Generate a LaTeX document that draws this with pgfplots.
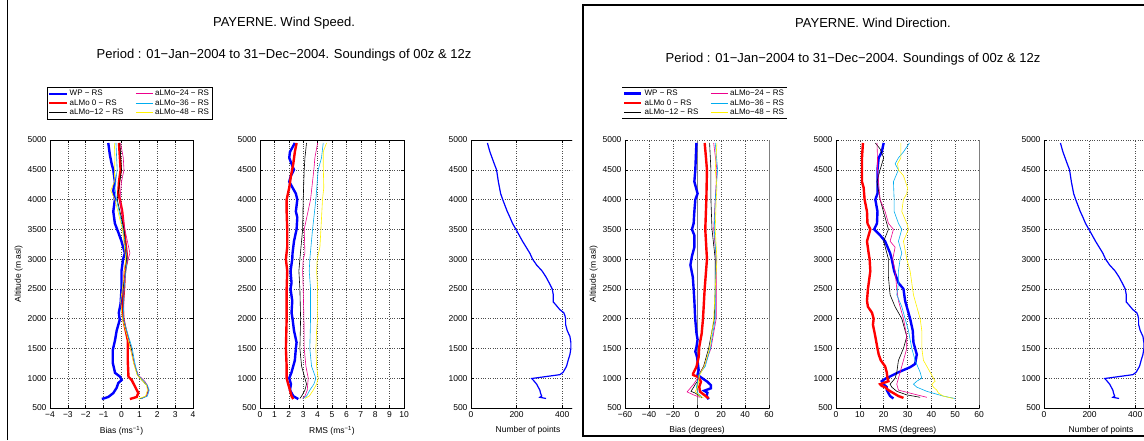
\documentclass[border=0pt]{standalone}
\usepackage{fontspec}
\setmainfont{Liberation Sans}
\usepackage{pgfplots}
\pgfplotsset{compat=1.18}

\pgfplotsset{
  prof/.style={scale only axis, anchor=south west, height=268pt,
    ymin=500, ymax=5000, ytick={500,1000,...,5000},
    grid=major, major grid style={dotted, black!70, line width=0.5pt},
    axis line style={line width=0.6pt}, tick style={black, line width=0.5pt},
    tick align=inside, major tick length=3pt,
    tick label style={font=\fontsize{8.5}{9}\selectfont},
    label style={font=\fontsize{8.5}{10}\selectfont},
    /pgf/number format/assume math mode=true,
    /pgf/number format/1000 sep={}, scaled ticks=false,
    xlabel style={yshift=-2pt}, ylabel style={yshift=-2pt}},
  wp/.style={blue, line width=2.4pt},
  m0/.style={red, line width=2.4pt},
  m12/.style={black, line width=0.6pt},
  m24/.style={magenta, line width=0.6pt},
  m36/.style={cyan, line width=0.6pt},
  m48/.style={yellow, line width=0.6pt},
  npts/.style={blue, line width=1.2pt},
  leg/.style={legend columns=3, transpose legend, legend cell align=left,
    legend style={at={(-0.021,1.198)}, anchor=north west,
      font=\fontsize{8}{8.5}\selectfont, inner sep=1pt, row sep=-1.8pt,
      /tikz/every even column/.append style={column sep=10pt}}},
  rightbox/.style={axis x line*=bottom, axis y line*=left, tick align=inside},
}

\begin{document}
\begin{tikzpicture}
\path[use as bounding box] (0pt,0pt) rectangle (1144pt,440pt);

% ---------------- wind speed ----------------
\node[font=\fontsize{13}{15}\selectfont] at (284pt,417pt) {PAYERNE. Wind Speed.};
\node[font=\fontsize{13}{15}\selectfont] at (284pt,385pt) {Period : 01−Jan−2004 to 31−Dec−2004. Soundings of 00z \& 12z};
\draw[line width=1.5pt] (7.5pt,0pt) -- (7.5pt,440pt);

\begin{axis}[prof, leg, at={(50pt,32pt)}, width=143pt,
  xmin=-4, xmax=4, xtick={-4,...,4},
  xticklabels={−4,−3,−2,−1,0,1,2,3,4},
  legend style={draw=black, line width=0.5pt},
  xlabel={Bias (ms\textsuperscript{−1})}, ylabel={Altitude (m asl)}]
\addplot[wp] coordinates {(-0.74,4950) (-0.65,4750) (-0.55,4600) (-0.46,4500) (-0.37,4300) (-0.46,4150) (-0.37,4000) (-0.46,3800) (-0.37,3600) (-0.18,3450) (0.0,3300) (0.19,3100) (0.09,3000) (0.0,2800) (0.0,2500) (-0.05,2250) (-0.15,2100) (-0.1,1980) (-0.27,1800) (-0.36,1640) (-0.49,1470) (-0.49,1260) (-0.36,1090) (-0.08,1025) (0.01,970) (-0.18,920) (-0.27,840) (-0.46,750) (-0.74,685) (-1.1,651)};
\addlegendentry{WP − RS}
\addplot[m0] coordinates {(-0.14,4950) (-0.09,4700) (-0.05,4500) (-0.14,4300) (-0.18,4100) (-0.09,4000) (0.04,3800) (0.14,3500) (0.25,3200) (0.32,3000) (0.19,2800) (0.14,2500) (0.06,2200) (0.1,2000) (0.2,1850) (0.35,1640) (0.35,1300) (0.39,1025) (0.57,970) (0.75,864) (0.94,752) (0.85,685) (0.47,651)};
\addlegendentry{aLMo 0 − RS}
\addplot[m12] coordinates {(-0.09,4950) (0.0,4500) (-0.24,4000) (0.14,3500) (0.28,3000) (0.09,2500) (0.09,2000) (0.3,1750) (0.55,1500) (0.7,1250) (0.9,1050) (1.2,950) (1.42,880) (1.5,800) (1.4,700) (1.05,655)};
\addlegendentry{aLMo−12 − RS}
\addplot[m24] coordinates {(-0.05,4950) (0.1,4700) (0.14,4500) (0.0,4300) (-0.09,4000) (0.19,3500) (0.47,3100) (0.19,2800) (0.14,2500) (0.12,2000) (0.32,1750) (0.5,1500) (0.7,1250) (0.95,1050) (1.3,950) (1.45,880) (1.5,780) (1.38,700) (1.1,655)};
\addlegendentry{aLMo−24 − RS}
\addplot[m36] coordinates {(-0.31,4950) (-0.24,4500) (-0.37,4200) (-0.28,4000) (0.09,3500) (0.32,3000) (0.14,2500) (0.1,2000) (0.35,1750) (0.6,1500) (0.75,1250) (0.92,1050) (1.25,950) (1.45,880) (1.55,800) (1.45,700) (1.1,655)};
\addlegendentry{aLMo−36 − RS}
\addplot[m48] coordinates {(-0.4,4950) (-0.37,4700) (-0.4,4300) (-0.6,4150) (-0.37,4000) (0.05,3500) (0.24,3000) (0.05,2500) (-0.05,2300) (0.05,2000) (0.28,1750) (0.5,1500) (0.68,1250) (0.88,1050) (1.2,950) (1.4,880) (1.45,800) (1.35,700) (0.95,655)};
\addlegendentry{aLMo−48 − RS}
\end{axis}

\begin{axis}[prof, at={(260pt,32pt)}, width=144pt,
  xmin=0, xmax=10, xtick={0,...,10},
  xlabel={RMS (ms\textsuperscript{−1})}]
\addplot[wp] coordinates {(2.42,4950) (2.08,4800) (2.03,4700) (2.19,4600) (2.36,4500) (2.15,4400) (2.03,4300) (2.26,4200) (2.49,4100) (2.59,4000) (2.49,3800) (2.59,3700) (2.54,3500) (2.36,3300) (2.26,3100) (2.24,3000) (2.12,2800) (2.19,2600) (2.12,2500) (2.24,2300) (2.19,2100) (2.26,2000) (2.36,1800) (2.54,1600) (2.49,1500) (2.42,1300) (2.19,1100) (2.03,1000) (2.15,900) (2.08,800) (2.31,700) (2.66,650)};
\addplot[m0] coordinates {(2.54,4950) (2.42,4800) (2.31,4600) (2.15,4400) (2.03,4200) (1.85,4000) (1.85,3800) (1.89,3500) (1.89,3200) (1.8,3000) (1.89,2800) (1.85,2500) (1.85,2000) (1.8,1500) (1.85,1200) (1.85,1000) (1.96,900) (2.08,800) (2.19,700) (2.31,650)};
\addplot[m12] coordinates {(3.23,4950) (3.12,4700) (3.07,4500) (3.0,4000) (2.96,3500) (2.77,3000) (2.7,2800) (2.77,2500) (2.82,2000) (2.77,1500) (2.89,1200) (3.12,1000) (3.23,900) (3.12,800) (2.89,700) (2.77,660)};
\addplot[m24] coordinates {(4.0,4950) (3.81,4700) (3.74,4500) (3.51,4000) (3.07,3500) (3.12,3100) (3.0,3000) (2.96,2800) (3.0,2500) (3.05,2000) (3.07,1500) (3.19,1200) (3.35,1000) (3.28,800) (3.12,700) (2.96,660)};
\addplot[m36] coordinates {(4.39,4950) (4.27,4700) (4.04,4500) (3.88,4000) (3.65,3500) (3.46,3000) (3.42,2800) (3.51,2500) (3.51,2000) (3.46,1500) (3.58,1200) (3.88,1000) (3.74,900) (3.46,800) (3.23,700) (3.0,660)};
\addplot[m48] coordinates {(4.62,4950) (4.39,4800) (4.39,4600) (4.43,4200) (4.34,4000) (4.23,3500) (4.16,3200) (3.97,3000) (3.93,2800) (4.0,2500) (4.0,2000) (3.93,1800) (3.88,1500) (3.93,1200) (4.04,1000) (3.93,900) (3.7,800) (3.42,700) (3.12,660)};
\end{axis}

\begin{scope}
\clip (0pt,0pt) rectangle (572pt,440pt);
\begin{axis}[prof, at={(471pt,32pt)}, width=114pt,
  xmin=0, xmax=500, xtick={0,200,400},
  xlabel={Number of points}]
\addplot[npts] coordinates {(72,4950) (83,4800) (102,4600) (112,4500) (120,4300) (130,4100) (139,4000) (159,3800) (171,3700) (182,3600) (197,3500) (226,3300) (258,3100) (270,3000) (288,2900) (312,2800) (329,2700) (343,2600) (356,2500) (361,2400) (361,2280) (368,2250) (390,2150) (407,2100) (412,2050) (415,2000) (415,1900) (422,1800) (434,1700) (438,1600) (438,1500) (434,1400) (426,1300) (419,1200) (404,1100) (390,1060) (266,995) (275,960) (288,900) (295,850) (302,800) (305,750) (310,700) (302,680) (329,660)};
\end{axis}
\end{scope}

% ---------------- wind direction ----------------
\draw[line width=1.5pt] (583pt,4pt) rectangle (1150pt,435pt);
\node[font=\fontsize{13}{15}\selectfont] at (873pt,417pt) {PAYERNE. Wind Direction.};
\node[font=\fontsize{13}{15}\selectfont] at (853pt,381pt) {Period : 01−Jan−2004 to 31−Dec−2004. Soundings of 00z \& 12z};

\begin{axis}[prof, rightbox, leg, at={(625pt,32pt)}, width=144pt,
  xmin=-60, xmax=60, xtick={-60,-40,...,60},
  xticklabels={−60,−40,−20,0,20,40,60},
  extra x ticks={0,60}, extra x tick labels={},
  extra x tick style={major grid style={solid, gray, line width=0.8pt}},
  legend style={draw=none, path picture={\draw[line width=1.4pt]
    (path picture bounding box.north west) -- (path picture bounding box.north east)
    (path picture bounding box.south west) -- (path picture bounding box.south east);}},
  xlabel={Bias (degrees)}, ylabel={Altitude (m asl)}]
\addplot[wp] coordinates {(-0.5,4950) (-1.4,4500) (-2.2,4300) (0.5,4100) (-1.4,4000) (-2.2,3800) (-2.8,3600) (-4.2,3500) (-2.2,3400) (-2.2,3200) (-4.2,3050) (-5.5,2900) (-3.5,2700) (-2.8,2500) (-2.2,2300) (-1.5,2000) (-0.4,1750) (0.5,1650) (-0.4,1530) (-1.4,1450) (0,1360) (1.4,1140) (0.4,1055) (4.0,1005) (8.7,940) (11.5,885) (11.5,830) (6,790) (8.7,757) (8,700) (9.7,646)};
\addlegendentry{WP − RS}
\addplot[m0] coordinates {(6.4,4950) (7.5,4700) (8.3,4500) (7.8,4000) (6.9,3500) (8.3,3000) (6.4,2500) (5,2000) (3.9,1750) (1.9,1530) (1.4,1360) (-0.4,1195) (-3.2,1080) (-3.2,1055) (1.4,1015) (3.3,940) (1.9,858) (2.5,775) (6.1,718) (9.7,662)};
\addlegendentry{aLMo 0 − RS}
\addplot[m12] coordinates {(10.5,4950) (11.6,4500) (11.6,4000) (12.5,3500) (15.2,3000) (15.2,2500) (14.4,2000) (9.7,1500) (5.5,1200) (1.4,1050) (0.5,1000) (0.5,950) (-1.4,900) (-2.8,850) (-5,780) (-1.4,750) (2.2,700) (4.2,670)};
\addlegendentry{aLMo−12 − RS}
\addplot[m24] coordinates {(13.9,4950) (16.6,4500) (15.2,4000) (13.9,3500) (16,3000) (16,2500) (16,2000) (11.6,1500) (6,1200) (1.4,1050) (0.5,1000) (-2.8,900) (-7,800) (-8.3,770) (-2.8,720) (2.2,680)};
\addlegendentry{aLMo−24 − RS}
\addplot[m36] coordinates {(15.2,4950) (17.2,4500) (15.2,4000) (14.4,3500) (16,3000) (15.2,2500) (15.2,2000) (11.1,1500) (6.9,1200) (1.4,1050) (0.5,950) (-0.5,850) (0.5,750) (4.2,680)};
\addlegendentry{aLMo−36 − RS}
\addplot[m48] coordinates {(16.6,4950) (15.2,4500) (16.6,4200) (16,4000) (15.2,3500) (16.6,3000) (15.2,2500) (13.9,2000) (10.5,1500) (6,1200) (2.2,1050) (1.4,950) (0.5,850) (-1.4,780) (2.2,700) (5.5,670)};
\addlegendentry{aLMo−48 − RS}
\end{axis}

\begin{axis}[prof, rightbox, at={(836pt,32pt)}, width=143pt,
  xmin=0, xmax=60, xtick={0,10,...,60},
  extra x ticks={60}, extra x tick labels={},
  extra x tick style={major grid style={solid, gray, line width=0.8pt}},
  xlabel={RMS (degrees)}]
\addplot[wp] coordinates {(20,4950) (19.2,4800) (17.9,4700) (17.4,4500) (17.4,4300) (17.4,4100) (16.5,4000) (17.4,3800) (17.2,3600) (16,3500) (18.5,3400) (20.6,3300) (22.7,3100) (23.4,3000) (24.4,2800) (26.2,2600) (28.3,2500) (29,2300) (30.4,2100) (31.1,2000) (32.2,1800) (32.5,1600) (33.2,1500) (33.9,1400) (33.2,1240) (31.1,1185) (26.2,1100) (22.7,1030) (20.6,990) (19.2,950) (20,900) (21.3,850) (21.3,800) (22,750) (22.7,700) (24.1,660)};
\addplot[m0] coordinates {(11.3,4950) (10.9,4700) (10.9,4500) (10.9,4300) (11.6,4200) (12,4000) (13,3800) (13.2,3600) (14.4,3500) (13.7,3400) (13,3300) (13.7,3100) (14.1,3000) (14.4,2800) (13.4,2500) (13,2300) (13.4,2200) (15.1,2100) (15.8,2000) (15.5,1900) (16.5,1700) (17.4,1500) (17.9,1400) (18.8,1300) (20.6,1200) (21.3,1100) (21.6,1000) (22,950) (18.5,900) (19.2,870) (20.6,850) (22,800) (24.1,750) (26.2,700) (28.3,670)};
\addplot[m12] coordinates {(16.5,4950) (18.5,4850) (20,4700) (18.5,4500) (17.2,4300) (18.5,4000) (20.6,3700) (22,3500) (20,3300) (22,3000) (22,2700) (22.7,2400) (24.8,2200) (27.6,2000) (29,1800) (29.7,1700) (28.3,1500) (26.2,1300) (25.5,1100) (24.8,1000) (22.7,900) (23.4,850) (25.5,780) (29.7,720) (35.3,680)};
\addplot[m24] coordinates {(17.2,4950) (17.4,4700) (17.4,4500) (18.5,4000) (20.6,3800) (22,3600) (24.1,3500) (22.7,3300) (24.8,3200) (23.8,3000) (24.8,2800) (25.5,2500) (26.2,2300) (28.3,2000) (29.7,1700) (29.7,1500) (28.3,1300) (26.9,1100) (26.2,1000) (25.5,900) (26.2,800) (31.1,750) (38.1,680)};
\addplot[m36] coordinates {(30.8,4950) (28.3,4800) (26.2,4700) (24.8,4600) (26.2,4500) (24.1,4300) (24.4,4000) (24.4,3800) (26.2,3600) (27.6,3500) (26.2,3300) (27.6,3100) (26.9,3000) (26.2,2800) (26.2,2600) (25.5,2400) (27.6,2200) (29,2000) (30.4,1800) (31.8,1500) (33.2,1300) (35.3,1100) (36,1000) (33.9,950) (32.5,900) (33.9,850) (38.1,780) (45,700) (49.9,660)};
\addplot[m48] coordinates {(27.2,4950) (27.2,4700) (25.8,4600) (26.2,4500) (28.3,4400) (30,4200) (29.7,4100) (28.3,4000) (27.6,3800) (29.7,3600) (30.4,3500) (28.3,3300) (29.7,3000) (31.1,2800) (31.8,2600) (32.5,2400) (33.9,2200) (35.3,2000) (36,1800) (36,1500) (36.7,1300) (39.5,1100) (40.9,1000) (41.6,950) (40.2,900) (40.9,850) (42.3,800) (43,750) (45,700) (49.2,660)};
\end{axis}

\begin{axis}[prof, rightbox, at={(1044pt,32pt)}, width=114pt,
  xmin=0, xmax=500, xtick={0,200,400},
  xlabel={Number of points}]
\addplot[npts] coordinates {(72,4950) (83,4800) (102,4600) (112,4500) (120,4300) (130,4100) (139,4000) (159,3800) (171,3700) (182,3600) (197,3500) (226,3300) (258,3100) (270,3000) (288,2900) (312,2800) (329,2700) (343,2600) (356,2500) (361,2400) (361,2280) (368,2250) (390,2150) (407,2100) (412,2050) (415,2000) (415,1900) (422,1800) (434,1700) (438,1600) (438,1500) (434,1400) (426,1300) (419,1200) (404,1100) (390,1060) (266,995) (275,960) (288,900) (295,850) (302,800) (305,750) (310,700) (302,680) (329,660)};
\end{axis}
\end{tikzpicture}
\end{document}
